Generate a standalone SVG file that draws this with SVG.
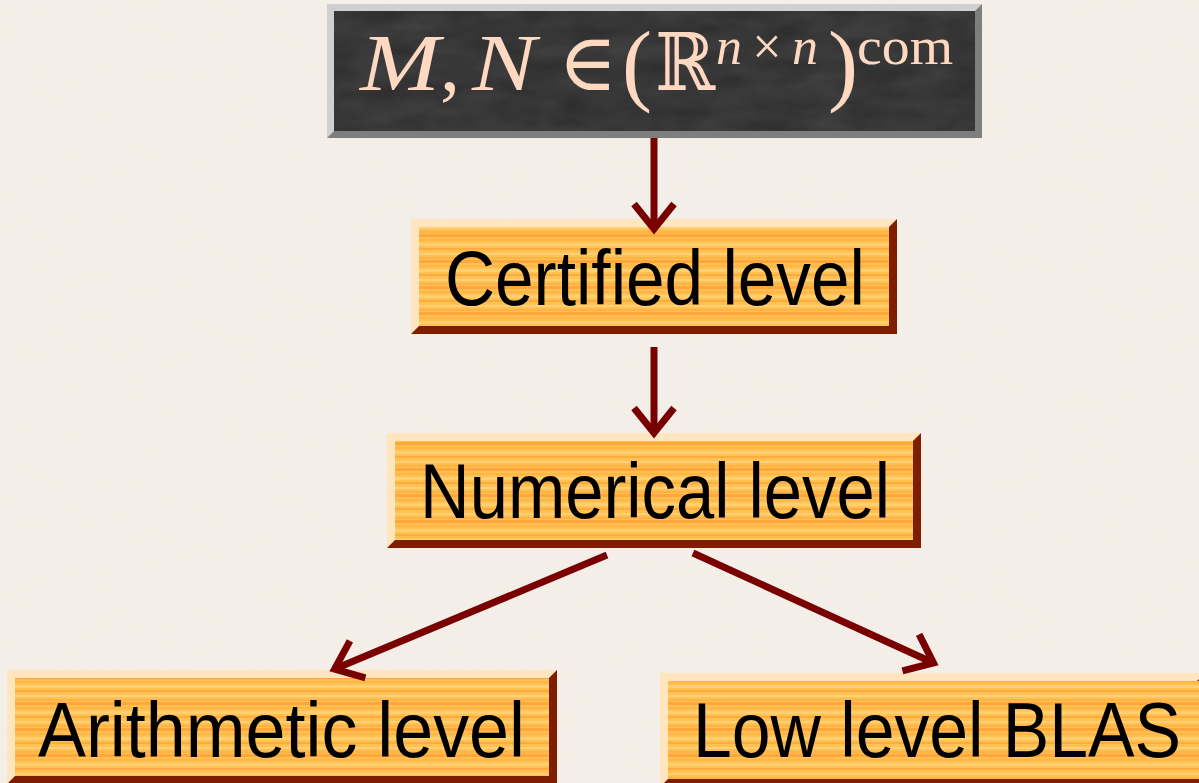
<svg xmlns="http://www.w3.org/2000/svg" width="1199" height="783" viewBox="0 0 1199 783">
  <defs>
    <style>
      .lbl { font-family: "Liberation Sans", Arial, sans-serif; font-size: 77px; fill: #000; }
      .math { font-family: "Liberation Serif", "DejaVu Serif", serif; fill: #ffd8c2; font-size: 80px; }
      .sup { font-size: 52px; }
      .par { font-size: 90px; }
      .it { font-style: italic; }
      .conn { stroke: #7a0000; stroke-width: 7; fill: none; }
      .hi { fill: #ffe6bf; }
      .lo { fill: #7f1d00; }
    </style>
    <filter id="paper" x="0" y="0" width="100%" height="100%">
      <feTurbulence type="fractalNoise" baseFrequency="0.9" numOctaves="2" seed="3" result="n"/>
      <feColorMatrix in="n" type="matrix" values="0 0 0 0 0.85  0 0 0 0 0.8  0 0 0 0 0.75  0 0 0 0.18 0"/>
    </filter>
    <filter id="slate" x="0" y="0" width="100%" height="100%">
      <feTurbulence type="fractalNoise" baseFrequency="0.02 0.05" numOctaves="3" seed="7" result="n"/>
      <feColorMatrix in="n" type="matrix" values="0 0 0 0 0.4  0 0 0 0 0.4  0 0 0 0 0.4  0 0 0 0.2 0"/>
    </filter>
    <pattern id="wood" patternUnits="userSpaceOnUse" width="240" height="26">
      <rect width="240" height="26" fill="#ffc251"/>
      <rect y="0" width="240" height="3" fill="#ffa63c"/>
      <rect y="5" width="240" height="2" fill="#ffb548"/>
      <rect y="9" width="240" height="3" fill="#ffd071"/>
      <rect y="14" width="240" height="2" fill="#ffab40"/>
      <rect y="19" width="240" height="2" fill="#ffcf7a"/>
      <rect y="23" width="240" height="2" fill="#ffb245"/>
    </pattern>
    <marker id="chev" markerUnits="userSpaceOnUse" orient="auto" refX="0" refY="0" markerWidth="60" markerHeight="60" overflow="visible">
      <path d="M-25,-20 L0,0 L-25,20" fill="none" stroke="#7a0000" stroke-width="7"/>
    </marker>
  </defs>

  <rect width="1199" height="783" fill="#f5efe9"/>
  <rect width="1199" height="783" filter="url(#paper)"/>

  <g id="node-top">
    <rect x="327" y="4" width="655" height="134" fill="#d0d0d0"/>
    <polygon points="327,138 982,138 982,4 975,11 975,131 334,131" fill="#7e7e7e"/>
    <rect x="334" y="11" width="641" height="120" fill="#2a2a2a"/>
    <rect x="334" y="11" width="641" height="120" filter="url(#slate)"/>
    <text class="math it" x="360" y="90" textLength="80" lengthAdjust="spacingAndGlyphs">M</text>
    <text class="math" x="440" y="90">,</text>
    <text class="math it" x="472" y="90" textLength="64" lengthAdjust="spacingAndGlyphs">N</text>
    <text class="math" x="558" y="90">∈</text>
    <text class="math par" x="622" y="94">(</text>
    <text class="math" x="655" y="90" textLength="60" lengthAdjust="spacingAndGlyphs">ℝ</text>
    <text class="math sup" x="716" y="64" textLength="102" lengthAdjust="spacing"><tspan class="it">n</tspan>×<tspan class="it">n</tspan></text>
    <text class="math par" x="828" y="94">)</text>
    <text class="math sup" x="857" y="64" textLength="96" lengthAdjust="spacingAndGlyphs">com</text>
  </g>

  <g id="node-certified">
    <rect class="hi" x="411" y="219" width="486" height="115"/>
    <polygon class="lo" points="411,334 897,334 897,219 889,227 889,326 419,326"/>
    <rect x="419" y="227" width="470" height="99" fill="url(#wood)"/>
    <text class="lbl" x="445" y="305" textLength="420" lengthAdjust="spacingAndGlyphs">Certified level</text>
  </g>

  <g id="node-numerical">
    <rect class="hi" x="387" y="433" width="534" height="115"/>
    <polygon class="lo" points="387,548 921,548 921,433 913,441 913,540 395,540"/>
    <rect x="395" y="441" width="518" height="99" fill="url(#wood)"/>
    <text class="lbl" x="420" y="518" textLength="470" lengthAdjust="spacingAndGlyphs">Numerical level</text>
  </g>

  <g id="node-arithmetic">
    <rect class="hi" x="7" y="670" width="550" height="114"/>
    <polygon class="lo" points="7,784 557,784 557,670 549,678 549,776 15,776"/>
    <rect x="15" y="678" width="534" height="98" fill="url(#wood)"/>
    <text class="lbl" x="38" y="757" textLength="487" lengthAdjust="spacingAndGlyphs">Arithmetic level</text>
  </g>

  <g id="node-blas">
    <rect class="hi" x="660" y="673" width="545" height="114"/>
    <polygon class="lo" points="660,787 1205,787 1205,673 1197,681 1197,779 668,779"/>
    <rect x="668" y="681" width="537" height="98" fill="url(#wood)"/>
    <text class="lbl" x="693" y="757" textLength="488" lengthAdjust="spacingAndGlyphs">Low level BLAS</text>
  </g>

  <g id="connectors">
    <line class="conn" x1="654" y1="138" x2="654" y2="229" marker-end="url(#chev)"/>
    <line class="conn" x1="654" y1="347" x2="654" y2="433" marker-end="url(#chev)"/>
    <line class="conn" x1="607" y1="555" x2="334.6" y2="669" marker-end="url(#chev)"/>
    <line class="conn" x1="693" y1="553" x2="933.5" y2="663" marker-end="url(#chev)"/>
  </g>
</svg>
